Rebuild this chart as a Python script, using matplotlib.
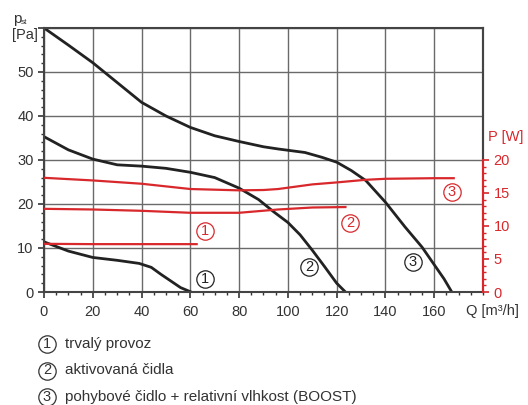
import matplotlib.pyplot as plt
import numpy as np
from matplotlib.ticker import MultipleLocator

# tlakove krivky (Q [m3/h], p_st [Pa])
q1 = [0, 10, 20, 30, 39, 44, 48, 52, 56, 60.3]
p1 = [11.4, 9.3, 7.85, 7.2, 6.5, 5.6, 4.0, 2.5, 1.0, 0]

q2 = [0, 10, 20, 30, 40, 50, 60, 70, 80, 88, 94, 100, 105, 110, 115, 120, 123.6]
p2 = [35.3, 32.3, 30.2, 28.9, 28.6, 28.1, 27.2, 26.0, 23.6, 21.0, 18.3, 15.8, 13.0, 9.5, 5.8, 2.0, 0]

q3 = [0, 10, 20, 30, 40, 50, 60, 70, 80, 90, 96, 107, 114, 120, 126, 132, 140, 148, 155, 160, 164, 167.2]
p3 = [60, 56.1, 52.1, 47.6, 43.1, 40.0, 37.4, 35.5, 34.2, 33.0, 32.5, 31.7, 30.6, 29.5, 27.6, 25.3, 20.4, 14.8, 10.2, 6.2, 3.0, 0]

# prikon (Q [m3/h], P [W])
qw1 = [0, 20, 40, 62.6]
w1 = [7.3, 7.25, 7.25, 7.25]
qw2 = [0, 20, 40, 60, 80, 96, 110, 123.6]
w2 = [12.6, 12.5, 12.3, 12.0, 12.0, 12.5, 12.8, 12.87]
qw3 = [0, 20, 40, 50, 60, 80, 90, 96, 110, 120, 132, 140, 160, 168]
w3 = [17.3, 16.9, 16.4, 16.0, 15.6, 15.4, 15.45, 15.6, 16.3, 16.6, 17.0, 17.15, 17.24, 17.24]

ytick_vals = [0, 10, 20, 30, 40, 50, 60]
ytick_txt = ['0', '10', '20', '30', '40', '50', '']
xtick_vals = [0, 20, 40, 60, 80, 100, 120, 140, 160]
wtick_vals = [0, 5, 10, 15, 20]

legenda = ['trvalý provoz', 'aktivovaná čidla', 'pohybové čidlo + relativní vlhkost (BOOST)']

cerna = '#222222'
cervena = '#d8282c'
sediva = '#333333'

plt.rcParams['font.family'] = ['Liberation Sans', 'DejaVu Sans']

fig = plt.figure(figsize=(5.28, 4.05), dpi=100)
ax = fig.add_axes([0.0833, 0.279, 0.8315, 0.652])

ax.plot(q1, p1, color=cerna, lw=2)
ax.plot(q2, p2, color=cerna, lw=2)
ax.plot(q3, p3, color=cerna, lw=2)

ax.set_xlim(0, 180)
ax.set_ylim(0, 60)
ax.set_xticks(xtick_vals)
ax.xaxis.set_minor_locator(MultipleLocator(5))
ax.set_yticks(ytick_vals, ytick_txt)
ax.yaxis.set_minor_locator(MultipleLocator(2))
ax.grid(True, which='major', color='#6a6a6a', lw=1)
ax.set_axisbelow(True)
ax.tick_params(which='both', direction='out', colors=sediva, labelsize=10.5)
ax.tick_params(which='major', length=4, width=1.2)
ax.tick_params(which='minor', length=2.5, width=1)
ax.tick_params(axis='x', pad=5)
for s in ax.spines.values():
    s.set_color('#444444')
    s.set_linewidth(1.5)

# prava osa - prikon
ax2 = ax.twinx()
ax2.plot(qw1, w1, color=cervena, lw=1.6)
ax2.plot(qw2, w2, color=cervena, lw=1.6)
ax2.plot(qw3, w3, color=cervena, lw=1.6)
ax2.set_ylim(0, 40)
ax2.set_yticks(wtick_vals)
ax2.set_yticks(np.arange(0, 21, 1), minor=True)
ax2.tick_params(which='both', direction='out', colors=cervena, labelsize=10.5)
ax2.tick_params(which='major', length=4, width=1.2)
ax2.tick_params(which='minor', length=2.5, width=1)
ax2.spines['right'].set_bounds(0, 20)
ax2.spines['right'].set_color(cervena)
ax2.spines['right'].set_linewidth(1.5)
for k in ['top', 'left', 'bottom']:
    ax2.spines[k].set_visible(False)
ax.plot([180, 180], [30, 60], color='#444444', lw=1.5, clip_on=False, zorder=5)

# popisky os
fig.text(13 / 528, 1 - 19 / 405, 'p', fontsize=11, color=sediva, ha='left', va='center')
fig.text(21 / 528, 1 - 23 / 405, 'st', fontsize=6, color=sediva, ha='left', va='center')
fig.text(12 / 528, 1 - 35 / 405, '[Pa]', fontsize=10.5, color=sediva, ha='left', va='center')
ax2.text(1.012, 22.4, 'P [W]', transform=ax2.get_yaxis_transform(), fontsize=10.5,
         color=cervena, ha='left', va='bottom')
ax.annotate('Q [m³/h]', xy=(184, 0), xycoords=('data', 'axes fraction'),
            xytext=(0, -8.5), textcoords='offset points', ha='center', va='top',
            fontsize=10.5, color=sediva, annotation_clip=False)


def kruh(x, y, n, barva, trans=None):
    kw = {} if trans is None else {'transform': trans}
    ax.plot([x], [y], marker='o', ms=12.5, mfc='white', mec=barva, mew=0.9,
            clip_on=False, zorder=6, **kw)
    ax.text(x, y, str(n), color=barva, fontsize=10.5, ha='center', va='center',
            zorder=7, **kw)


kruh(66, 13.8, 1, cervena)
kruh(125.4, 15.7, 2, cervena)
kruh(167.2, 22.7, 3, cervena)
kruh(66, 2.9, 1, cerna)
kruh(108.7, 5.6, 2, cerna)
kruh(151.3, 6.9, 3, cerna)

# legenda pod grafem
for i, t in enumerate(legenda):
    yy = 1 - (344 + 26.5 * i) / 405
    kruh(47 / 528, yy, i + 1, sediva, fig.transFigure)
    fig.text(65 / 528, yy, t, fontsize=11, color=sediva, ha='left', va='center')

fig.savefig('out.png', dpi=100)
